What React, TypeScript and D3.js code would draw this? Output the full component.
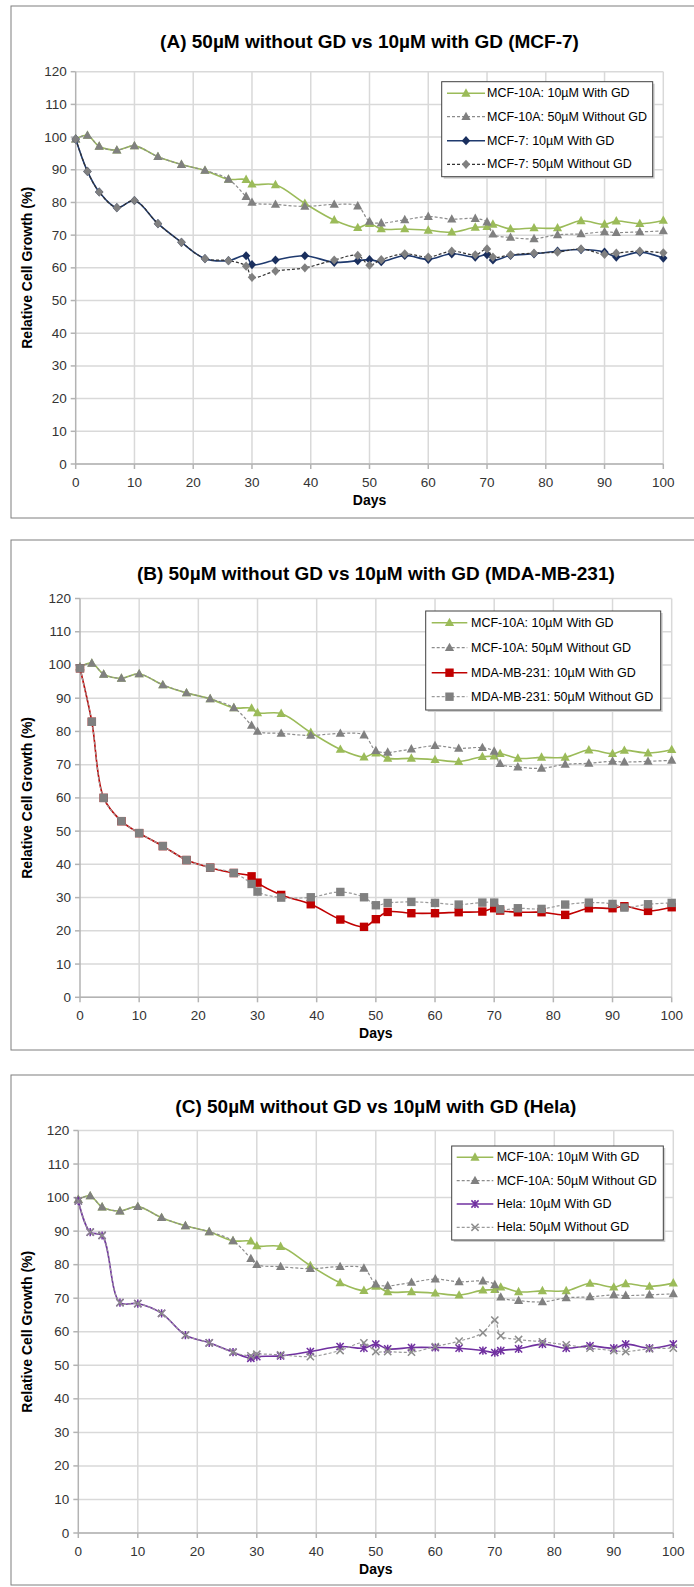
import React from "react";
import * as d3 from "d3";

// measurement days (same schedule for every cell line)
const days = [0, 2, 4, 7, 10, 14, 18, 22, 26, 29, 30, 34, 39, 44, 48, 50, 52, 56, 60, 64, 68, 70, 71, 74, 78, 82, 86, 90, 92, 96, 100];

// control line, shown in every panel
const mcf10aWithGD = [99.4, 100.5, 97.2, 96.0, 97.3, 94.0, 91.6, 89.8, 87.1, 87.0, 85.6, 85.4, 79.7, 74.6, 72.3, 73.5, 71.9, 71.9, 71.5, 70.9, 72.4, 72.6, 73.3, 71.9, 72.2, 72.2, 74.4, 73.3, 74.3, 73.5, 74.5];
const mcf10aWithoutGD = [99.4, 100.5, 97.2, 96.0, 97.3, 94.0, 91.6, 89.8, 87.1, 81.8, 80.0, 79.4, 78.8, 79.4, 78.9, 74.2, 73.7, 74.7, 75.7, 74.9, 75.1, 74.0, 70.3, 69.3, 68.9, 70.1, 70.4, 71.0, 70.8, 71.0, 71.3];

const mcf7WithGD = [99.4, 89.5, 83.2, 78.4, 80.6, 73.5, 67.8, 62.8, 62.2, 63.7, 61.0, 62.4, 63.7, 61.7, 62.2, 62.5, 61.9, 63.8, 62.6, 64.3, 63.3, 64.0, 62.4, 63.8, 64.3, 65.1, 65.6, 64.8, 63.3, 64.8, 63.0];
const mcf7WithoutGD = [99.4, 89.5, 83.2, 78.4, 80.6, 73.5, 67.8, 62.8, 62.2, 60.5, 57.1, 59.0, 60.0, 62.4, 63.8, 60.8, 62.5, 64.3, 63.3, 65.1, 64.0, 65.8, 63.3, 64.0, 64.5, 64.8, 65.8, 64.1, 64.5, 65.1, 64.6];

const mdaWithGD = [99.0, 82.9, 60.0, 53.0, 49.4, 45.5, 41.3, 39.0, 37.4, 36.4, 34.5, 30.8, 28.0, 23.4, 21.2, 23.5, 25.7, 25.3, 25.3, 25.6, 25.8, 26.8, 26.1, 25.6, 25.6, 24.8, 26.8, 26.8, 27.4, 26.0, 27.1];
const mdaWithoutGD = [99.0, 82.9, 60.0, 53.0, 49.4, 45.5, 41.3, 39.0, 37.4, 34.1, 31.8, 30.0, 30.1, 31.7, 30.1, 27.7, 28.4, 28.7, 28.4, 27.9, 28.5, 28.5, 26.5, 26.8, 26.6, 27.9, 28.5, 28.1, 27.0, 28.0, 28.4];

const helaWithGD = [99.0, 89.7, 88.7, 68.7, 68.4, 65.5, 59.0, 56.7, 53.9, 52.1, 52.6, 52.8, 54.1, 55.6, 55.1, 56.3, 54.9, 55.3, 55.3, 55.1, 54.4, 53.8, 54.4, 54.9, 56.3, 55.1, 55.8, 55.1, 56.3, 55.1, 56.3];
const helaWithoutGD = [99.0, 89.7, 88.7, 68.7, 68.4, 65.5, 59.0, 56.7, 53.9, 52.8, 53.3, 53.1, 52.6, 54.4, 56.7, 54.1, 54.1, 53.9, 55.6, 57.2, 59.7, 63.5, 58.8, 57.7, 57.0, 56.1, 55.1, 54.4, 54.1, 54.9, 55.1];

const xTicks = [0, 10, 20, 30, 40, 50, 60, 70, 80, 90, 100];
const yTicks = [0, 10, 20, 30, 40, 50, 60, 70, 80, 90, 100, 110, 120];

const FONT = "'Liberation Sans', Arial, Helvetica, sans-serif";

type Marker = "triangle" | "diamond" | "square" | "star" | "cross";

interface Series {
  name: string;
  values: number[];
  line: string;
  fill: string;
  dash?: string;
  width: number;
  marker: Marker;
}

interface PanelCfg {
  title: string;
  box: { top: number; bottom: number };
  plot: { left: number; right: number; top: number; bottom: number };
  titleY: number;
  legend: { x: number; y: number; w: number; h: number; rowY: number[]; x0: number; x1: number; tx: number };
  series: Series[];
}

const green = "#9bbb59";
const gray = "#808080";

const control: Series[] = [
  { name: "MCF-10A: 10µM With GD", values: mcf10aWithGD, line: green, fill: green, width: 1.6, marker: "triangle" },
  { name: "MCF-10A: 50µM Without GD", values: mcf10aWithoutGD, line: "#8c8c8c", fill: gray, dash: "3,2", width: 1.2, marker: "triangle" },
];

const panels: PanelCfg[] = [
  {
    title: "(A) 50µM without GD vs 10µM with GD (MCF-7)",
    box: { top: 6, bottom: 518 },
    plot: { left: 75.7, right: 663.3, top: 71.7, bottom: 464 },
    titleY: 41,
    legend: { x: 441.7, y: 81.7, w: 211, h: 95, rowY: [93.3, 116.7, 140.7, 164.3], x0: 447, x1: 485, tx: 487 },
    series: [
      ...control,
      { name: "MCF-7: 10µM With GD", values: mcf7WithGD, line: "#1f3a6e", fill: "#1a2f5e", width: 1.6, marker: "diamond" },
      { name: "MCF-7: 50µM Without GD", values: mcf7WithoutGD, line: "#333333", fill: gray, dash: "3,2", width: 1.2, marker: "diamond" },
    ],
  },
  {
    title: "(B) 50µM without GD vs 10µM with GD (MDA-MB-231)",
    box: { top: 540, bottom: 1050 },
    plot: { left: 80, right: 671.7, top: 598.5, bottom: 997.3 },
    titleY: 573.3,
    legend: { x: 425.7, y: 611, w: 235, h: 99, rowY: [622.7, 647.7, 672.7, 696.7], x0: 431.7, x1: 467.3, tx: 471 },
    series: [
      ...control,
      { name: "MDA-MB-231: 10µM With GD", values: mdaWithGD, line: "#c00000", fill: "#c00000", width: 1.6, marker: "square" },
      { name: "MDA-MB-231: 50µM Without GD", values: mdaWithoutGD, line: "#9a9a9a", fill: gray, dash: "3,2", width: 1.2, marker: "square" },
    ],
  },
  {
    title: "(C) 50µM without GD vs 10µM with GD (Hela)",
    box: { top: 1075, bottom: 1585 },
    plot: { left: 78.3, right: 673.3, top: 1130.5, bottom: 1533 },
    titleY: 1106.7,
    legend: { x: 451.7, y: 1146, w: 211.6, h: 94, rowY: [1157.3, 1180.7, 1204, 1227.3], x0: 456.7, x1: 493.3, tx: 496.7 },
    series: [
      ...control,
      { name: "Hela: 10µM With GD", values: helaWithGD, line: "#7030a0", fill: "#7030a0", width: 1.6, marker: "star" },
      { name: "Hela: 50µM Without GD", values: helaWithoutGD, line: "#9a9a9a", fill: "#8c8c8c", dash: "3,2", width: 1.2, marker: "cross" },
    ],
  },
];

function MarkerShape({ kind, x, y, color }: { kind: Marker; x: number; y: number; color: string }) {
  if (kind === "triangle") {
    return <path d={`M${x},${y - 5}L${x + 4.6},${y + 3.4}L${x - 4.6},${y + 3.4}Z`} fill={color} />;
  }
  if (kind === "diamond") {
    return <path d={`M${x},${y - 4.6}L${x + 4.2},${y}L${x},${y + 4.6}L${x - 4.2},${y}Z`} fill={color} />;
  }
  if (kind === "square") {
    return <rect x={x - 4.2} y={y - 4.2} width={8.4} height={8.4} fill={color} />;
  }
  const s = 3.6;
  const xs = `M${x - s},${y - s}L${x + s},${y + s}M${x - s},${y + s}L${x + s},${y - s}`;
  const d = kind === "star" ? `${xs}M${x},${y - s - 0.5}L${x},${y + s + 0.5}` : xs;
  return <path d={d} stroke={color} strokeWidth={1.5} fill="none" />;
}

function Panel({ cfg }: { cfg: PanelCfg }) {
  const { plot, legend } = cfg;
  const x = d3.scaleLinear().domain([0, 100]).range([plot.left, plot.right]);
  const y = d3.scaleLinear().domain([0, 120]).range([plot.bottom, plot.top]);
  const line = d3
    .line<number>()
    .x((_, i) => x(days[i]))
    .y((v) => y(v))
    .curve(d3.curveCatmullRom.alpha(0.5));
  const midX = (plot.left + plot.right) / 2;
  const midY = (plot.top + plot.bottom) / 2;

  return (
    <g>
      <rect x={11} y={cfg.box.top} width={720} height={cfg.box.bottom - cfg.box.top} fill="#fff" stroke="#7f7f7f" strokeWidth={1} />
      <text x={midX} y={cfg.titleY} textAnchor="middle" dominantBaseline="central" fontFamily={FONT} fontWeight="bold" fontSize={19} fill="#000">
        {cfg.title}
      </text>

      {/* grid */}
      {yTicks.map((t) => (
        <line key={"gy" + t} x1={plot.left} x2={plot.right} y1={y(t)} y2={y(t)} stroke="#d9d9d9" strokeWidth={1.5} />
      ))}
      {xTicks.slice(1).map((t) => (
        <line key={"gx" + t} x1={x(t)} x2={x(t)} y1={plot.top} y2={plot.bottom} stroke="#d9d9d9" strokeWidth={1.5} />
      ))}

      {/* axes */}
      <line x1={plot.left} x2={plot.left} y1={plot.top} y2={plot.bottom} stroke="#b3b3b3" strokeWidth={1.5} />
      <line x1={plot.left} x2={plot.right} y1={plot.bottom} y2={plot.bottom} stroke="#b3b3b3" strokeWidth={1.5} />
      {yTicks.map((t) => (
        <g key={"ty" + t}>
          <line x1={plot.left - 5} x2={plot.left} y1={y(t)} y2={y(t)} stroke="#b3b3b3" strokeWidth={1.5} />
          <text x={plot.left - 9} y={y(t)} textAnchor="end" dominantBaseline="central" fontFamily={FONT} fontSize={13.5} fill="#333">
            {t}
          </text>
        </g>
      ))}
      {xTicks.map((t) => (
        <g key={"tx" + t}>
          <line x1={x(t)} x2={x(t)} y1={plot.bottom} y2={plot.bottom + 5} stroke="#b3b3b3" strokeWidth={1.5} />
          <text x={x(t)} y={plot.bottom + 18} textAnchor="middle" dominantBaseline="central" fontFamily={FONT} fontSize={13.5} fill="#333">
            {t}
          </text>
        </g>
      ))}
      <text x={midX} y={plot.bottom + 36} textAnchor="middle" dominantBaseline="central" fontFamily={FONT} fontWeight="bold" fontSize={14} fill="#000">
        Days
      </text>
      <text
        transform={`translate(27,${midY}) rotate(-90)`}
        textAnchor="middle"
        dominantBaseline="central"
        fontFamily={FONT}
        fontWeight="bold"
        fontSize={14}
        fill="#000"
      >
        Relative Cell Growth (%)
      </text>

      {/* series */}
      {cfg.series.map((s) => (
        <g key={s.name}>
          <path d={line(s.values) || ""} fill="none" stroke={s.line} strokeWidth={s.width} strokeDasharray={s.dash} />
          {s.values.map((v, i) => (
            <MarkerShape key={i} kind={s.marker} x={x(days[i])} y={y(v)} color={s.fill} />
          ))}
        </g>
      ))}

      {/* legend */}
      <rect x={legend.x + 2} y={legend.y + 2} width={legend.w} height={legend.h} fill="#cfcfcf" />
      <rect x={legend.x} y={legend.y} width={legend.w} height={legend.h} fill="#fff" stroke="#404040" strokeWidth={1} />
      {cfg.series.map((s, i) => {
        const ry = legend.rowY[i];
        const mx = (legend.x0 + legend.x1) / 2;
        return (
          <g key={"lg" + s.name}>
            <line x1={legend.x0} x2={legend.x1} y1={ry} y2={ry} stroke={s.line} strokeWidth={s.width} strokeDasharray={s.dash} />
            <MarkerShape kind={s.marker} x={mx} y={ry} color={s.fill} />
            <text x={legend.tx} y={ry} dominantBaseline="central" fontFamily={FONT} fontSize={12.5} fill="#000">
              {s.name}
            </text>
          </g>
        );
      })}
    </g>
  );
}

export default function App() {
  return (
    <svg
      width={694}
      height={1587}
      viewBox="0 0 694 1587"
      style={{ position: "absolute", left: 0, top: 0, background: "#fff" }}
    >
      <rect width={694} height={1587} fill="#fff" />
      {panels.map((p) => (
        <Panel key={p.title} cfg={p} />
      ))}
    </svg>
  );
}
